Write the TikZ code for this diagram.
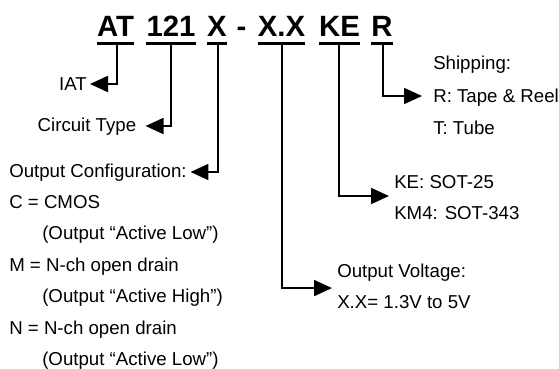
\documentclass[tikz,border=0pt]{standalone}
\usepackage{fontspec}
\setmainfont{Liberation Sans}
\usetikzlibrary{arrows.meta,calc}
\begin{document}
\begin{tikzpicture}[x=0.75pt,y=-0.75pt,
  txt/.style={inner sep=0pt,font=\fontsize{14pt}{16pt}\selectfont},
  ttl/.style={inner sep=0pt,font=\fontsize{22pt}{24pt}\selectfont\bfseries,anchor=base},
  uline/.style={line width=2.3pt},
  conn/.style={line width=1.4pt,-{Triangle[length=13.5pt,width=12pt]},shorten >=1.5pt}]
\useasboundingbox (0,0) rectangle (559,368);
% title parts
\node[ttl] (at)  at (115.5,36) {AT};
\node[ttl] (ot)  at (171,36) {121};
\node[ttl] (x)   at (217,36) {X};
\node[ttl] (dash) at (241.5,36) {-};
\node[ttl] (xx)  at (281.5,36) {X.X};
\node[ttl] (ke)  at (339.5,36) {KE};
\node[ttl] (r)   at (382,36) {R};
\foreach \n in {at,ot,x,xx,ke,r}
  \draw[uline] ($(\n.base west)+(0,7.5)$) -- ($(\n.base east)+(0,7.5)$);
% texts
\node[txt,anchor=base east] (iat) at (87,90.5) {IAT};
\node[txt,anchor=base east] (ct) at (136.5,131.5) {Circuit Type};
\node[txt,anchor=base west] (oc) at (9,177.5) {Output Configuration:};
\node[txt,anchor=base west] (c1) at (9,208) {C = CMOS};
\node[txt,anchor=base west] (c2) at (42,239.5) {(Output “Active Low”)};
\node[txt,anchor=base west] (c3) at (9,271) {M = N-ch open drain};
\node[txt,anchor=base west] (c4) at (42,302.5) {(Output “Active High”)};
\node[txt,anchor=base west] (c5) at (9,334) {N = N-ch open drain};
\node[txt,anchor=base west] (c6) at (42,365) {(Output “Active Low”)};
\node[txt,anchor=base west] (s1) at (433,69.5) {Shipping:};
\node[txt,anchor=base west] (s2) at (433,102.5) {R: Tape \& Reel};
\node[txt,anchor=base west] (s3) at (433,134.5) {T: Tube};
\node[txt,anchor=base west] (k1) at (394,188.5) {KE: SOT-25};
\node[txt,anchor=base west] (k2) at (394,219.5) {KM4: SOT-343};
\node[txt,anchor=base west] (v1) at (337,277.5) {Output Voltage:};
\node[txt,anchor=base west] (v2) at (337,308.5) {X.X= 1.3V to 5V};
% connectors
\draw[conn] ($(at.base)+(1.5,9)$) |- ($(iat.base east)+(1,-6.5)$);
\draw[conn] ($(ot.base)+(0,9)$) |- ($(ct.base east)+(7,-5.5)$);
\draw[conn] ($(x.base)+(1,9)$) |- ($(oc.base east)+(1.5,-5.5)$);
\draw[conn] ($(xx.base)+(0.5,9)$) |- ($(v1.base west)!0.55!(v2.base west)+(-3,-6.5)$);
\draw[conn] ($(ke.base)+(-0.5,9)$) |- ($(k1.base west)!0.5!(k2.base west)+(-3,-8)$);
\draw[conn] ($(r.base)+(1,9)$) |- ($(s2.base west)+(-9,-6.5)$);
\end{tikzpicture}
\end{document}
